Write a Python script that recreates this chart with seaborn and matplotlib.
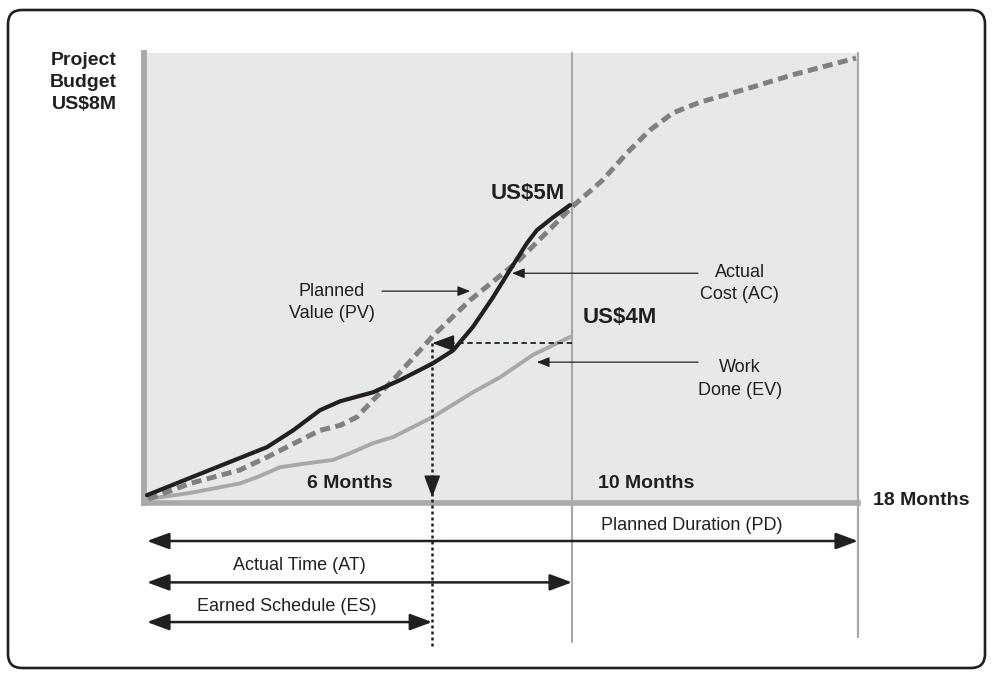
import numpy as np
import pandas as pd
import matplotlib
matplotlib.use("Agg")
import matplotlib.pyplot as plt
import seaborn as sns
from matplotlib import font_manager
from matplotlib.patches import FancyBboxPatch
from matplotlib.transforms import IdentityTransform

# curve data: x in months (schematic scale), y in US$M (schematic scale)
pv_month = [0.03, 1.09, 2.35, 3.04, 3.62, 4.38, 4.89, 5.32, 5.72, 6.23, 6.73, 7.24,
            8.18, 9.37, 10.78, 11.54, 12.15, 12.73, 13.32, 14.00, 15.09, 16.35, 17.95]
pv_value = [0.02, 0.30, 0.54, 0.77, 0.98, 1.25, 1.34, 1.49, 1.79, 2.15, 2.54, 2.94,
            3.58, 4.26, 5.26, 5.73, 6.21, 6.62, 6.93, 7.12, 7.34, 7.61, 7.91]

ac_month = [0.0, 1.34, 3.04, 3.70, 4.38, 4.89, 5.72, 6.41, 7.24, 7.75, 8.25, 8.76,
            9.19, 9.62, 9.87, 10.28, 10.71]
ac_value = [0.09, 0.47, 0.95, 1.25, 1.61, 1.77, 1.93, 2.15, 2.45, 2.68, 3.10, 3.63,
            4.12, 4.60, 4.83, 5.06, 5.28]

ev_month = [0.0, 1.09, 2.35, 2.78, 3.37, 4.05, 4.71, 5.14, 5.72, 6.23, 7.24, 8.25,
            8.94, 9.77, 10.71]
ev_value = [0.02, 0.13, 0.30, 0.41, 0.59, 0.66, 0.72, 0.84, 1.02, 1.13, 1.49, 1.93,
            2.20, 2.60, 2.92]

# key time markers
actual_time = 10.76
earned_schedule = 7.22
planned_duration = 18.0
ev_now = 2.81

# pick a narrow font if there is one
names = {f.name for f in font_manager.fontManager.ttflist}
narrow = 'Liberation Sans Narrow' if 'Liberation Sans Narrow' in names else 'Liberation Sans'
wide = 'Liberation Sans'

sns.set_style("white")
plt.rcParams['font.family'] = [narrow, 'DejaVu Sans']

ink = '#231f20'
axis_gray = '#a7a9ac'

fig = plt.figure(figsize=(9.93, 6.78), dpi=100)
ax = fig.add_axes([144 / 993, 175 / 678, 714 / 993, 450 / 678])
ax.set_facecolor('#e7e8e9')
ax.set_xlim(-0.076, 18)
ax.set_ylim(-0.05, 8)
ax.set_xticks([])
ax.set_yticks([])
for s in ['top', 'right']:
    ax.spines[s].set_visible(False)
ax.spines['left'].set_color(axis_gray)
ax.spines['left'].set_linewidth(4.3)
ax.spines['bottom'].set_color(axis_gray)
ax.spines['bottom'].set_linewidth(4.0)

# vertical reference lines (right edge and actual time)
ax.plot([planned_duration, planned_duration], [8, -2.45], color=axis_gray, lw=1.6,
        clip_on=False, zorder=1)
ax.plot([actual_time, actual_time], [8, -2.54], color=axis_gray, lw=1.6,
        clip_on=False, zorder=1)

pv = pd.DataFrame({'month': pv_month, 'value': pv_value})
ac = pd.DataFrame({'month': ac_month, 'value': ac_value})
ev = pd.DataFrame({'month': ev_month, 'value': ev_value})

sns.lineplot(data=ev, x='month', y='value', color='#a6a8ab', lw=2.8, ax=ax,
             solid_joinstyle='round', solid_capstyle='round', zorder=3)
sns.lineplot(data=pv, x='month', y='value', color='#808080', lw=3.6, ax=ax,
             linestyle=(0, (2.0, 1.1)), zorder=4)
sns.lineplot(data=ac, x='month', y='value', color=ink, lw=3.0, ax=ax,
             solid_joinstyle='round', solid_capstyle='round', zorder=5)
ax.set_xlabel('')
ax.set_ylabel('')

# earned schedule projection: dashed across, dotted down
ax.plot([actual_time, earned_schedule + 0.5], [ev_now, ev_now], color=ink, lw=1.3,
        linestyle=(0, (3, 2)), zorder=6)
ax.annotate('', xy=(earned_schedule, ev_now), xytext=(earned_schedule + 0.5, ev_now),
            arrowprops=dict(arrowstyle='-|>,head_length=1.35,head_width=0.5',
                            mutation_scale=10, color=ink, lw=1.2, shrinkA=0, shrinkB=0),
            zorder=6)
ax.plot([earned_schedule, earned_schedule], [ev_now, -2.6], color=ink, lw=1.8,
        linestyle=(0, (1.2, 1.2)), clip_on=False, zorder=6)
ax.annotate('', xy=(earned_schedule, 0.05), xytext=(earned_schedule, 0.4),
            arrowprops=dict(arrowstyle='-|>,head_length=1.35,head_width=0.5',
                            mutation_scale=10, color=ink, lw=1.2, shrinkA=0, shrinkB=0),
            zorder=6)

# duration arrows under the axis
spans = [(planned_duration, -0.73, 'Planned Duration (PD)', 13.78, -0.45),
         (actual_time, -1.47, 'Actual Time (AT)', 3.87, -1.16),
         (earned_schedule, -2.18, 'Earned Schedule (ES)', 3.54, -1.91)]
for end, yy, label, lx, ly in spans:
    ax.annotate('', xy=(end, yy), xytext=(0, yy), annotation_clip=False,
                arrowprops=dict(arrowstyle='<|-|>,head_length=1.35,head_width=0.5',
                                mutation_scale=10, color=ink, lw=1.8,
                                shrinkA=0, shrinkB=0))
    ax.text(lx, ly, label, ha='center', va='center', fontsize=13, color=ink,
            clip_on=False)

# label arrows
pointers = [(5.95, 8.18, 3.74), (13.95, 9.24, 4.06), (13.95, 9.87, 2.47)]
for x0, x1, yy in pointers:
    ax.annotate('', xy=(x1, yy), xytext=(x0, yy),
                arrowprops=dict(arrowstyle='-|>,head_length=0.75,head_width=0.3',
                                mutation_scale=10, color=ink, lw=0.9,
                                shrinkA=0, shrinkB=0))

ax.text(4.68, 3.53, 'Planned\nValue (PV)', ha='center', va='center', fontsize=13,
        color=ink, linespacing=1.4)
ax.text(15.01, 3.87, 'Actual\nCost (AC)', ha='center', va='center', fontsize=13,
        color=ink, linespacing=1.4)
ax.text(15.01, 2.17, 'Work\nDone (EV)', ha='center', va='center', fontsize=13,
        color=ink, linespacing=1.4)

ax.text(10.58, 5.49, 'US$5M', ha='right', va='center', fontsize=16, fontweight='bold',
        color=ink, family=[wide, 'DejaVu Sans'])
ax.text(11.04, 3.26, 'US$4M', ha='left', va='center', fontsize=16, fontweight='bold',
        color=ink, family=[wide, 'DejaVu Sans'])

ax.text(5.14, 0.30, '6 Months', ha='center', va='center', fontsize=14,
        fontweight='bold', color=ink)
ax.text(11.42, 0.30, '10 Months', ha='left', va='center', fontsize=14,
        fontweight='bold', color=ink)
ax.text(18.38, 0.0, '18 Months', ha='left', va='center', fontsize=14,
        fontweight='bold', color=ink, clip_on=False)
ax.text(-0.76, 8.02, 'Project\nBudget\nUS$8M', ha='right', va='top', fontsize=14,
        fontweight='bold', color=ink, linespacing=1.4, clip_on=False)

# rounded frame around the whole figure
frame = FancyBboxPatch((8, 10), 977, 658, boxstyle='round,pad=0,rounding_size=14',
                       transform=IdentityTransform(), fill=False, ec=ink, lw=1.9)
fig.patches.append(frame)

fig.savefig('out.png', dpi=100)
